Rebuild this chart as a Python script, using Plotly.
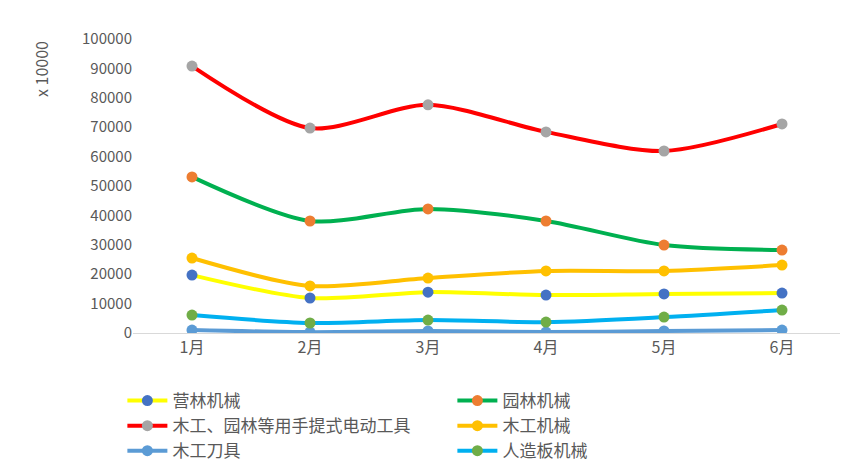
import plotly.graph_objects as go

months = ["1月", "2月", "3月", "4月", "5月", "6月"]
names = ["营林机械", "园林机械", "木工、园林等用手提式电动工具", "木工机械", "木工刀具", "人造板机械"]
yinglin = [19700, 11900, 13900, 12900, 13300, 13600]
yuanlin = [53100, 38100, 42200, 38100, 29900, 28200]
diandong = [90800, 69700, 77600, 68400, 61900, 71100]
mugong = [25500, 16000, 18700, 21100, 21100, 23100]
daoju = [1000, 300, 700, 300, 700, 1000]
renzaoban = [6100, 3400, 4400, 3700, 5400, 7800]

series = [yinglin, yuanlin, diandong, mugong, daoju, renzaoban]
line_colors = ["#FFFF00", "#00B050", "#FF0000", "#FFC000", "#5B9BD5", "#00B0F0"]
marker_colors = ["#4472C4", "#ED7D31", "#A5A5A5", "#FFC000", "#5B9BD5", "#70AD47"]

fig = go.Figure()
for name, vals, lc, mc in zip(names, series, line_colors, marker_colors):
    fig.add_trace(go.Scatter(
        x=months, y=vals, name=name, mode="lines+markers",
        line=dict(color=lc, width=4, shape="spline", smoothing=0.8),
        marker=dict(color=mc, size=11),
    ))

fig.add_annotation(text="x 10000", textangle=-90, xref="paper", yref="paper",
                   x=-0.13, y=1.0, xanchor="center", yanchor="top", showarrow=False,
                   font=dict(size=16, color="#595959"))

fig.update_layout(
    width=848, height=472,
    margin=dict(l=125, r=15, t=31, b=147, autoexpand=False),
    plot_bgcolor="white", paper_bgcolor="white",
    font=dict(family="Noto Sans CJK SC", size=15, color="#595959"),
    xaxis=dict(range=[-0.5, 5.5], showline=True, linecolor="#D9D9D9", linewidth=1,
               showgrid=False, ticks="", tickfont=dict(size=16)),
    yaxis=dict(range=[0, 100000], dtick=10000, showgrid=False, showline=False,
               zeroline=False, tickformat="d"),
    legend=dict(orientation="h", x=-0.015, y=-0.17, xanchor="left", yanchor="top",
                entrywidth=275, tracegroupgap=0, font=dict(size=17), itemwidth=40),
)

fig.write_html("out.html")
